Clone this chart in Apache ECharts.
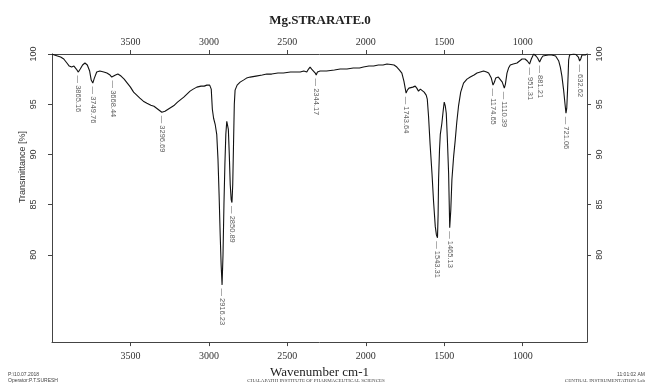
<!DOCTYPE html>
<html>
<head>
<meta charset="utf-8">
<script src="https://cdn.jsdelivr.net/npm/echarts@6/dist/echarts.min.js"></script>
<style>
  html, body { margin: 0; padding: 0; background: #fff; }
  #ftir { width: 652px; height: 384px; }
</style>
</head>
<body>
<div id="ftir"></div>
<script>
  // wavenumber (cm-1) and transmittance (%)
  var wavenumbers = [4000,3985,3965,3945,3925,3905,3890,3875,3860,3845,3832,3820,3805,3790,3775,3760,3750,3740,3730,3715,3695,3670,3650,3630,3619,3608,3595,3580,3560,3540,3520,3500,3480,3460,3440,3418,3395,3370,3350,3325,3300,3280,3260,3240,3220,3200,3184,3160,3140,3120,3100,3077,3050,3030,3013,2995,2985,2978,2970,2960,2950,2942,2935,2928,2922,2916,2910,2904,2898,2892,2886,2882,2876,2870,2864,2858,2853,2848,2843,2838,2833,2820,2801,2780,2760,2737,2700,2660,2631,2600,2560,2525,2480,2440,2418,2395,2376,2365,2355,2345,2333,2322,2316,2308,2291,2250,2200,2163,2120,2080,2040,2015,1980,1950,1920,1890,1865,1840,1820,1802,1785,1770,1757,1743,1735,1725,1717,1700,1685,1675,1664,1652,1642,1628,1615,1608,1600,1590,1578,1568,1557,1550,1543,1539,1536,1530,1525,1515,1507,1500,1493,1487,1480,1472,1465,1458,1451,1440,1430,1420,1409,1395,1377,1355,1334,1310,1291,1270,1249,1230,1217,1200,1189,1180,1172,1164,1155,1143,1130,1117,1110,1100,1090,1079,1060,1036,1020,1004,985,970,956,945,930,915,905,892,880,871,855,835,815,803,790,781,770,760,750,739,730,724,719,714,710,707,701,690,675,660,654,645,637,630,622,610,601,590];
  var transmittance = [100,99.9,99.8,99.7,99.5,99.1,98.8,98.7,98.8,98.5,98.2,98.5,98.9,99.1,98.9,98.3,97.4,97.1,97.6,98.2,98.3,98.2,98.1,97.9,97.7,97.7,97.9,98.0,97.8,97.5,97.1,96.7,96.2,95.9,95.6,95.3,95.1,94.9,94.8,94.5,94.2,94.3,94.5,94.7,94.9,95.2,95.4,95.7,96.0,96.3,96.5,96.7,96.8,96.8,96.9,96.9,96.5,94.5,93.6,93.0,92.0,89.5,86,82,79,77.0,80,85,89,92.0,93.3,93.4,92.5,90,87,85.5,85.2,87,91,95,96.4,96.9,97.2,97.4,97.6,97.7,97.8,97.9,98.0,98.0,98.1,98.1,98.2,98.2,98.2,98.3,98.2,98.5,98.7,98.5,98.4,98.1,97.9,98.2,98.3,98.3,98.4,98.5,98.5,98.6,98.6,98.7,98.8,98.8,98.9,98.9,99.0,98.95,98.9,98.7,98.4,98.1,97.3,96.1,96.4,96.6,96.6,96.7,96.8,96.6,96.3,96.5,96.4,96.2,95.9,95.5,93.8,91,88.1,85.3,82.8,82.0,81.7,84,87.5,90.5,92,93.1,94.3,95.2,94.8,94.1,91.5,88.1,82.7,84.5,87.5,89.8,91.4,93.2,94.8,96.2,97.1,97.5,97.7,97.9,98.1,98.2,98.3,98.2,98.1,97.6,96.9,97.2,97.6,97.7,97.7,97.6,97.2,96.6,97.0,98.1,98.6,98.9,99.0,99.1,99.3,99.5,99.5,99.3,99.0,99.5,100,99.8,99.6,99.2,99.6,99.8,99.85,99.9,99.9,99.9,99.8,99.7,99.3,98.7,97.8,96.4,95.0,94.1,94.6,96.4,98.0,99.4,99.9,100,100,99.95,99.9,99.7,99.3,99.5,99.9,99.9,99.9,100];

  // picked peaks: printed label, where it sits on the trace
  var peakLabels = ['3865.16','3749.76','3668.44','3296.69','2916.23','2850.89','2344.17','1743.64','1543.31','1465.13','1174.65','1110.39','951.31','881.21','721.06','632.62'];
  var peakWn = [3832,3740,3612,3300,2916,2853,2316,1743,1543,1465,1189,1117,956,892,724,637];
  var peakT = [98.2,97.1,97.7,94.2,77.0,85.2,97.9,96.1,81.7,82.7,96.9,96.6,99.0,99.2,94.1,99.3];

  var xTicks = [3500,3000,2500,2000,1500,1000];
  var yTicks = [80,85,90,95,100];

  var spectrum = [];
  for (var i = 0; i < wavenumbers.length; i++) {
    spectrum.push([wavenumbers[i], transmittance[i]]);
  }
  var peaks = [];
  for (var j = 0; j < peakLabels.length; j++) {
    peaks.push({ name: peakLabels[j], value: [peakWn[j], peakT[j]] });
  }

  var axisColor = '#444';
  var serif = '"Liberation Serif", "DejaVu Serif", serif';
  var sans = '"Liberation Sans", Arial, sans-serif';
  var plain = function (v) { return String(v); };

  function xAxisDef(pos) {
    return {
      type: 'value',
      position: pos,
      inverse: true,
      min: 590,
      max: 4000,
      axisLine: { show: true, onZero: false, lineStyle: { color: axisColor, width: 1 } },
      axisTick: { show: true, length: 4, customValues: xTicks, lineStyle: { color: axisColor } },
      axisLabel: {
        show: true, customValues: xTicks, margin: pos === 'top' ? 7 : 9,
        formatter: plain,
        fontFamily: serif, fontSize: 10, color: '#333'
      },
      splitLine: { show: false }
    };
  }
  function yAxisDef(pos) {
    return {
      type: 'value',
      position: pos,
      min: 71.3,
      max: 100,
      axisLine: { show: true, onZero: false, lineStyle: { color: axisColor, width: 1 } },
      axisTick: { show: true, length: 4, customValues: yTicks, lineStyle: { color: axisColor } },
      axisLabel: {
        show: true, customValues: yTicks, rotate: 90,
        margin: pos === 'left' ? 14 : 8,
        formatter: plain,
        align: 'center', verticalAlign: pos === 'left' ? 'bottom' : 'top',
        fontFamily: sans, fontSize: 9, color: '#333'
      },
      splitLine: { show: false }
    };
  }

  var bottomX = xAxisDef('bottom');
  bottomX.name = 'Wavenumber cm-1';
  bottomX.nameLocation = 'middle';
  bottomX.nameGap = 20;
  bottomX.nameTextStyle = { fontFamily: serif, fontSize: 13, color: '#222' };

  var chart = echarts.init(document.getElementById('ftir'));
  var option = {
    backgroundColor: '#fff',
    animation: false,
    title: {
      text: 'Mg.STRARATE.0',
      left: 315,
      top: 9,
      textAlign: 'center',
      textStyle: { fontFamily: serif, fontSize: 13, fontWeight: 'bold', color: '#222' }
    },
    grid: { left: 52, right: 65, top: 54, bottom: 41 },
    xAxis: [bottomX, xAxisDef('top')],
    yAxis: [yAxisDef('left'), yAxisDef('right')],
    series: [
      {
        type: 'line',
        data: spectrum,
        xAxisIndex: 0,
        yAxisIndex: 0,
        showSymbol: false,
        smooth: false,
        lineStyle: { color: '#111', width: 1.1 },
        silent: true
      },
      {
        type: 'scatter',
        data: peaks,
        xAxisIndex: 0,
        yAxisIndex: 0,
        symbolSize: 1,
        itemStyle: { color: 'rgba(0,0,0,0)' },
        label: {
          show: true,
          position: 'bottom',
          distance: 3,
          rotate: -90,
          align: 'left',
          verticalAlign: 'middle',
          fontFamily: sans,
          fontSize: 7.5,
          color: '#333',
          formatter: function (p) { return '\u2014 ' + p.name; }
        },
        silent: true
      }
    ],
    graphic: [
      {
        type: 'text', x: 23, y: 167, rotation: Math.PI / 2,
        style: { text: 'Transmittance [%]', fontFamily: sans, fontSize: 9, fill: '#333', align: 'center', verticalAlign: 'middle' }
      },
      {
        type: 'text', x: 8, y: 375,
        style: { text: 'P:\\10.07.2018', fontFamily: sans, fontSize: 5, fill: '#444', verticalAlign: 'middle' }
      },
      {
        type: 'text', x: 8, y: 381,
        style: { text: 'Operator:P.T.SURESH', fontFamily: sans, fontSize: 5, fill: '#444', verticalAlign: 'middle' }
      },
      {
        type: 'text', x: 316, y: 381,
        style: { text: 'CHALAPATHI INSTITUTE OF PHARMACEUTICAL SCIENCES', fontFamily: serif, fontSize: 5, fill: '#444', align: 'center', verticalAlign: 'middle' }
      },
      {
        type: 'text', x: 645, y: 375,
        style: { text: '11:01:02 AM', fontFamily: sans, fontSize: 5, fill: '#444', align: 'right', verticalAlign: 'middle' }
      },
      {
        type: 'text', x: 645, y: 381,
        style: { text: 'CENTRAL INSTRUMENTATION Lab', fontFamily: serif, fontSize: 5, fill: '#444', align: 'right', verticalAlign: 'middle' }
      }
    ]
  };
  chart.setOption(option);
</script>
</body>
</html>
